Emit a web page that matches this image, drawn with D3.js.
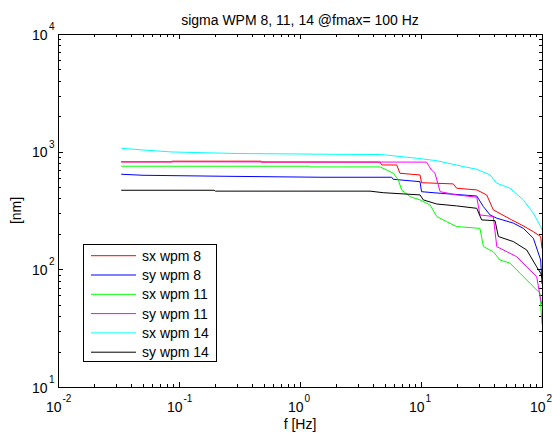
<!DOCTYPE html>
<html>
<head>
<meta charset="utf-8">
<script src="https://cdn.jsdelivr.net/npm/d3@7"></script>
<style>
  body { margin: 0; background: #fff; }
  svg { display: block; font-family: Arial, "Liberation Sans", Helvetica, sans-serif; }
</style>
</head>
<body>
<svg id="chart" width="552" height="433"></svg>
<script>
// ---------------- data ----------------
const titleText = "sigma WPM 8, 11, 14 @fmax= 100 Hz";
const xLabel = "f [Hz]";
const yLabel = "[nm]";
const xMajorExps = [-2, -1, 0, 1, 2];
const yMajorExps = [1, 2, 3, 4];

const seriesNames = ["sx wpm 8", "sy wpm 8", "sx wpm 11", "sy wpm 11", "sx wpm 14", "sy wpm 14"];
const seriesColors = ["#ff0000", "#0000ff", "#00ff00", "#ff00ff", "#00ffff", "#000000"];

const fSxWpm8 = [0.0333, 0.0875, 0.0876, 0.477, 0.478, 4.59, 4.73, 6.3, 6.7, 9.82, 10.1, 18.5, 19.7, 28.9, 34.9, 39.6, 56.2, 68.0, 84.8, 97.5, 100];
const vSxWpm8 = [818, 818, 830, 830, 815, 815, 771, 771, 655, 634, 545, 532, 489, 473, 429, 320, 263, 238, 209, 190, 150];

const fSyWpm8 = [0.0333, 0.0504, 0.231, 1.52, 5.73, 5.9, 9.82, 10.1, 14.4, 28.9, 32.8, 37.2, 42.3, 58.0, 70.1, 84.8, 97.5, 100];
const vSyWpm8 = [643, 630, 618, 606, 606, 582, 556, 457, 443, 420, 341, 290, 272, 247, 223, 184, 120, 75];

const fSxWpm11 = [0.0333, 1.19, 1.2, 4.59, 5.2, 5.91, 6.49, 6.92, 8.11, 9.82, 11.9, 13.5, 16.3, 19.7, 30.7, 32.8, 39.6, 45.0, 54.4, 65.8, 79.6, 96.2, 100];
const vSxWpm11 = [752, 752, 742, 742, 699, 655, 575, 473, 415, 389, 352, 281, 254, 231, 223, 156, 141, 120, 113, 92.7, 76.2, 62.7, 34];

const fSyWpm11 = [0.0333, 0.0875, 0.477, 11.1, 12.2, 13.05, 14.4, 19.7, 28.9, 30.7, 39.6, 42.3, 61.8, 74.8, 90.4, 97.5, 100];
const vSyWpm11 = [820, 820, 818, 815, 699, 655, 457, 429, 410, 290, 281, 156, 128, 105, 86.7, 55, 50];

const fSxWpm14 = [0.0333, 0.0504, 0.0875, 0.301, 1.95, 4.73, 9.21, 13.5, 22.4, 28.9, 37.2, 42.3, 54.4, 70.1, 84.8, 97.5, 100];
const vSxWpm14 = [1069, 1033, 994, 965, 950, 945, 879, 838, 747, 709, 634, 539, 489, 389, 300, 231, 216];

const fSyWpm14 = [0.0333, 0.195, 0.2, 3.79, 4.87, 9.82, 10.45, 13.5, 19.7, 28.9, 31.7, 40.9, 43.6, 58.0, 74.8, 90.4, 97.5, 100];
const vSyWpm14 = [470, 470, 462, 462, 448, 429, 389, 359, 346, 330, 263, 259, 190, 172, 146, 105, 92.7, 85];

const seriesF = [fSxWpm8, fSyWpm8, fSxWpm11, fSyWpm11, fSxWpm14, fSyWpm14];
const seriesV = [vSxWpm8, vSyWpm8, vSxWpm11, vSyWpm11, vSxWpm14, vSyWpm14];

// ---------------- layout ----------------
const L = 58, R = 542, T = 34, B = 387;
const svg = d3.select("#chart");
const x = d3.scaleLog().domain([0.01, 100]).range([L, R]);
const y = d3.scaleLog().domain([10, 10000]).range([B, T]);

svg.append("rect").attr("x", L).attr("y", T).attr("width", R - L).attr("height", B - T).attr("fill", "#fff");

// minor tick values
const xMinor = [], yMinor = [];
for (let e = -2; e < 2; e++) for (let m = 2; m <= 9; m++) xMinor.push(m * Math.pow(10, e));
for (let e = 1; e < 4; e++) for (let m = 2; m <= 9; m++) yMinor.push(m * Math.pow(10, e));
const xMaj = xMajorExps.map(e => Math.pow(10, e));
const yMaj = yMajorExps.map(e => Math.pow(10, e));

function styleAxis(g) {
  g.select(".domain").remove();
  g.selectAll("line").attr("stroke", "#000").attr("stroke-width", 1).attr("shape-rendering", "crispEdges");
}
// bottom / top
svg.append("g").attr("transform", `translate(0,${B})`).call(d3.axisBottom(x).tickValues(xMaj).tickSize(-5).tickFormat("")).call(styleAxis);
svg.append("g").attr("transform", `translate(0,${B})`).call(d3.axisBottom(x).tickValues(xMinor).tickSize(-3).tickFormat("")).call(styleAxis);
svg.append("g").attr("transform", `translate(0,${T})`).call(d3.axisTop(x).tickValues(xMaj).tickSize(-5).tickFormat("")).call(styleAxis);
svg.append("g").attr("transform", `translate(0,${T})`).call(d3.axisTop(x).tickValues(xMinor).tickSize(-3).tickFormat("")).call(styleAxis);
// left / right
svg.append("g").attr("transform", `translate(${L},0)`).call(d3.axisLeft(y).tickValues(yMaj).tickSize(-5).tickFormat("")).call(styleAxis);
svg.append("g").attr("transform", `translate(${L},0)`).call(d3.axisLeft(y).tickValues(yMinor).tickSize(-3).tickFormat("")).call(styleAxis);
svg.append("g").attr("transform", `translate(${R},0)`).call(d3.axisRight(y).tickValues(yMaj).tickSize(-5).tickFormat("")).call(styleAxis);
svg.append("g").attr("transform", `translate(${R},0)`).call(d3.axisRight(y).tickValues(yMinor).tickSize(-3).tickFormat("")).call(styleAxis);

// series lines
const clip = svg.append("clipPath").attr("id", "clip").append("rect")
  .attr("x", L).attr("y", T).attr("width", R - L).attr("height", B - T);
const line = d3.line().x(d => x(d[0])).y(d => y(d[1]));
const plotG = svg.append("g").attr("clip-path", "url(#clip)");
seriesF.forEach((fs, i) => {
  const pts = fs.map((f, j) => [f, seriesV[i][j]]);
  plotG.append("path").datum(pts).attr("d", line)
    .attr("fill", "none").attr("stroke", seriesColors[i]).attr("stroke-width", 1);
});

// box
svg.append("rect").attr("x", L).attr("y", T).attr("width", R - L).attr("height", B - T)
  .attr("fill", "none").attr("stroke", "#000").attr("stroke-width", 1).attr("shape-rendering", "crispEdges");

// tick labels
const fs = 14, sfs = 10;
xMajorExps.forEach(e => {
  svg.append("text").attr("x", x(Math.pow(10, e)) + 3.5).attr("y", 411.5)
    .attr("font-size", fs).attr("fill", "#000").attr("text-anchor", "end").text("10");
  svg.append("text").attr("x", x(Math.pow(10, e)) + 4.5).attr("y", 402)
    .attr("font-size", sfs).attr("fill", "#000").text(String(e));
});
yMajorExps.forEach(e => {
  const yy = y(Math.pow(10, e));
  svg.append("text").attr("x", 47.5).attr("y", yy + 5.5)
    .attr("font-size", fs).attr("fill", "#000").attr("text-anchor", "end").text("10");
  svg.append("text").attr("x", 49).attr("y", yy - 4)
    .attr("font-size", sfs).attr("fill", "#000").text(String(e));
});

// title and labels
svg.append("text").attr("x", (L + R) / 2).attr("y", 25).attr("text-anchor", "middle")
  .attr("font-size", fs).attr("fill", "#000").text(titleText);
svg.append("text").attr("x", (L + R) / 2).attr("y", 429).attr("text-anchor", "middle")
  .attr("font-size", fs).attr("fill", "#000").text(xLabel);
svg.append("text").attr("transform", `translate(21,${(T + B) / 2}) rotate(-90)`).attr("text-anchor", "middle")
  .attr("font-size", fs).attr("fill", "#000").text(yLabel);

// legend
const lg = svg.append("g");
lg.append("rect").attr("x", 83.5).attr("y", 244.5).attr("width", 133).attr("height", 117)
  .attr("fill", "#fff").attr("stroke", "#000").attr("stroke-width", 1);
seriesNames.forEach((n, i) => {
  const cy = 255.7 + i * 19.3;
  lg.append("line").attr("x1", 91).attr("x2", 136).attr("y1", cy).attr("y2", cy)
    .attr("stroke", seriesColors[i]).attr("stroke-width", 1);
  lg.append("text").attr("x", 142).attr("y", cy + 5).attr("font-size", fs).attr("fill", "#000").text(n);
});
</script>
</body>
</html>
